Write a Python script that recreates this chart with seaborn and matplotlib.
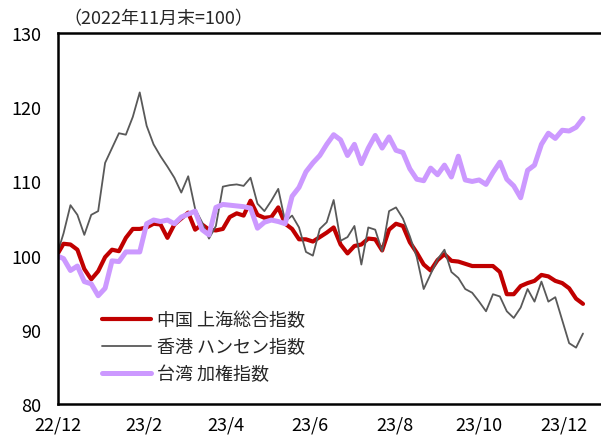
import pandas as pd
import matplotlib.pyplot as plt
import matplotlib.dates as mdates
import seaborn as sns

# ── data (index, end of Nov 2022 = 100), one point every 5 days ───────────────
dates = pd.date_range("2022-11-30", "2023-12-15", freq="5D")

shanghai = [100.0, 101.6, 101.5, 100.8, 98.2, 96.8, 97.9, 99.8, 100.8, 100.6,
            102.4, 103.6, 103.6, 103.8, 104.3, 104.2, 102.4, 104.2, 105.0, 105.8,
            103.5, 104.2, 103.5, 103.4, 103.6, 105.2, 105.7, 105.4, 107.4, 105.5,
            105.1, 105.2, 106.5, 104.3, 103.6, 102.2, 102.2, 101.9, 102.5, 103.1,
            103.8, 101.5, 100.3, 101.3, 101.5, 102.3, 102.2, 100.7, 103.5, 104.3,
            104.0, 101.8, 100.4, 98.8, 98.0, 99.4, 100.2, 99.3, 99.2, 98.9,
            98.6, 98.6, 98.6, 98.6, 97.8, 94.8, 94.8, 95.9, 96.3, 96.6,
            97.4, 97.2, 96.6, 96.3, 95.6, 94.2, 93.5]

hangseng = [100.0, 103.0, 106.8, 105.5, 102.8, 105.5, 106.0, 112.5, 114.5, 116.5,
            116.3, 118.7, 122.0, 117.5, 115.0, 113.4, 112.0, 110.5, 108.5, 110.7,
            106.3, 104.5, 102.3, 104.0, 109.3, 109.5, 109.6, 109.4, 110.5, 107.0,
            106.0, 107.4, 109.0, 104.6, 105.4, 103.8, 100.5, 100.0, 103.6, 104.5,
            107.5, 102.0, 102.5, 104.0, 98.8, 103.8, 103.5, 100.6, 106.0, 106.5,
            105.0, 102.6, 99.8, 95.5, 97.5, 99.5, 100.8, 97.8, 97.0, 95.5,
            95.0, 93.8, 92.5, 94.8, 94.5, 92.5, 91.6, 93.0, 95.5, 93.8,
            96.5, 93.8, 94.4, 91.3, 88.2, 87.6, 89.5]

taiwan = [100.0, 99.6, 98.0, 98.6, 96.5, 96.2, 94.6, 95.6, 99.3, 99.2,
          100.5, 100.5, 100.5, 104.3, 104.8, 104.6, 104.8, 104.3, 105.2, 105.6,
          106.0, 103.5, 102.8, 106.5, 106.9, 106.8, 106.7, 106.6, 106.4, 103.7,
          104.5, 104.8, 104.6, 104.3, 108.0, 109.2, 111.3, 112.5, 113.5, 115.0,
          116.3, 115.6, 113.5, 115.0, 112.4, 114.5, 116.2, 114.5, 116.0, 114.2,
          113.9, 111.7, 110.3, 110.1, 111.8, 110.9, 112.2, 110.6, 113.4, 110.2,
          110.0, 110.2, 109.6, 111.2, 112.6, 110.3, 109.4, 107.8, 111.5, 112.2,
          115.0, 116.5, 115.8, 116.9, 116.8, 117.3, 118.5]

labels = ["中国 上海総合指数", "香港 ハンセン指数", "台湾 加権指数"]
colors = ["#C00000", "#595959", "#CC99FF"]
widths = [3.0, 1.3, 3.6]

df = pd.DataFrame({"date": dates, labels[0]: shanghai,
                   labels[1]: hangseng, labels[2]: taiwan})

sns.set_style("white")
plt.rcParams["font.family"] = ["Noto Sans CJK JP", "DejaVu Sans"]

fig = plt.figure(figsize=(6.01, 4.39), dpi=100)
ax = fig.add_axes([0.0965, 0.0774, 0.9035, 0.845])

for name, c, lw in zip(labels, colors, widths):
    sns.lineplot(data=df, x="date", y=name, color=c, linewidth=lw,
                 label=name, ax=ax)

ax.set_xlim(pd.Timestamp("2022-12-01"), pd.Timestamp("2023-12-28"))
ax.set_ylim(80, 130)
ax.set_yticks(range(80, 131, 10))
ax.set_xticks(pd.date_range("2022-12-01", "2023-12-01", freq="2MS"))
ax.xaxis.set_major_formatter(mdates.DateFormatter("%y/%-m"))
ax.set_xlabel("")
ax.set_ylabel("")

for side in ["left", "bottom", "top"]:
    ax.spines[side].set_color("black")
    ax.spines[side].set_linewidth(1.8)
ax.spines["right"].set_visible(False)

ax.tick_params(axis="both", direction="in", length=4, width=1,
               colors="black", labelsize=13)
ax.tick_params(axis="y", pad=12)
ax.tick_params(axis="x", pad=8)

ax.legend(loc="lower left", bbox_to_anchor=(0.051, 0.012), frameon=False,
          fontsize=13, handlelength=2.7, handletextpad=0.35, labelspacing=0.5)

fig.text(0.105, 0.955, "（2022年11月末=100）", fontsize=13, ha="left", va="center")

fig.savefig("out.png", dpi=100)
plt.close(fig)
